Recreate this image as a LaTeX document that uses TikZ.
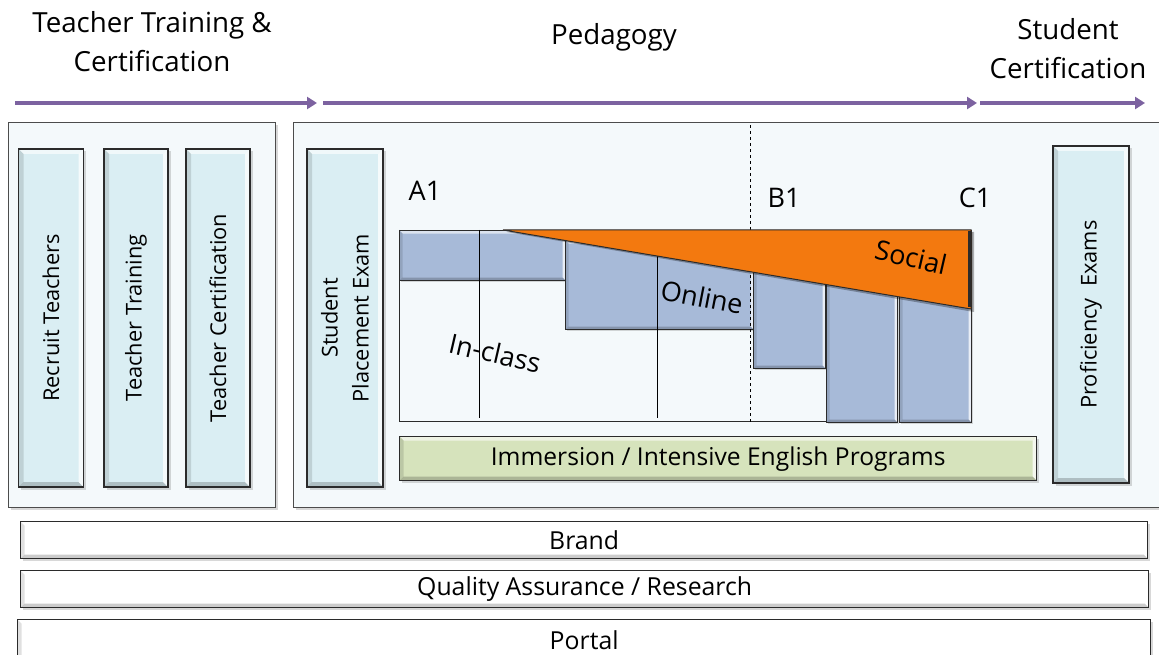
\documentclass[tikz,border=0pt]{standalone}
\usepackage{fontspec}
\setmainfont{Open Sans}
\usetikzlibrary{arrows.meta,shadows}
\definecolor{cyanC}{HTML}{DAEEF3}
\definecolor{contC}{HTML}{F4F9FB}
\definecolor{blueC}{HTML}{A7BAD8}
\definecolor{orangeC}{HTML}{F3790F}
\definecolor{greenC}{HTML}{D6E3BC}
\definecolor{purpleC}{HTML}{7C62A0}
\definecolor{edgeC}{HTML}{2B2B2B}
\tikzset{
  bevel/.style={path picture={
    \path (path picture bounding box.north west) coordinate (bNW)
          (path picture bounding box.north east) coordinate (bNE)
          (path picture bounding box.south west) coordinate (bSW)
          (path picture bounding box.south east) coordinate (bSE);
    \fill[white,opacity=.6] (bNW) -- (bNE) -- ([shift={(-#1,-#1)}]bNE) -- ([shift={(#1,-#1)}]bNW) -- cycle;
    \fill[white,opacity=.75] (bNE) -- (bSE) -- ([shift={(-#1,#1)}]bSE) -- ([shift={(-#1,-#1)}]bNE) -- cycle;
    \fill[black,opacity=.12] (bNW) -- (bSW) -- ([shift={(#1,#1)}]bSW) -- ([shift={(#1,-#1)}]bNW) -- cycle;
    \fill[black,opacity=.2] (bSW) -- (bSE) -- ([shift={(-#1,#1)}]bSE) -- ([shift={(#1,#1)}]bSW) -- cycle;
  }},
  bevel/.default=5pt,
  shad/.style={drop shadow={shadow xshift=2.5pt,shadow yshift=-2.5pt,opacity=.3}},
  cont/.style={draw=black!70, line width=1pt, fill=contC, shad, anchor=north west, inner sep=0pt},
  cbar/.style={draw=edgeC, line width=1.3pt, fill=cyanC, shad, bevel, inner sep=0pt},
  wbar/.style={draw=edgeC, line width=1.3pt, fill=white, shad, bevel=4pt, anchor=north west, inner sep=0pt, font=\fontsize{24.8}{28}\selectfont},
  gbar/.style={draw=edgeC, line width=1.3pt, fill=greenC, shad, bevel=4pt, anchor=north west, inner sep=0pt, font=\fontsize{24.6}{28}\selectfont},
  bbox/.style={draw=edgeC, line width=1pt, fill=blueC, bevel=3pt, anchor=north west, inner sep=0pt,
    drop shadow={shadow xshift=1.5pt,shadow yshift=-1.5pt,opacity=.3}},
  vlabel/.style={rotate=90, align=center, font=\fontsize{21.8}{31}\selectfont},
  head/.style={align=center, font=\fontsize{27.7}{39}\selectfont},
  lvl/.style={font=\fontsize{27}{30}\selectfont},
  mode/.style={font=\fontsize{27}{30}\selectfont},
  flow/.style={draw=purpleC, line width=4pt, -{Triangle[length=10pt,width=12pt]}},
}
\begin{document}
\begin{tikzpicture}[x=1pt,y=-1pt]
\useasboundingbox (0,0) rectangle (1159,655);
\clip (0,0) rectangle (1159,655);
\fill[white] (0,0) rectangle (1159,655);

% headings
\node[head] (h1) at (152,42) {Teacher Training \&\\Certification};
\node[head] (h2) at (614,37) {Pedagogy};
\node[head] (h3) at (1068,49) {Student\\Certification};

% arrows
\coordinate (a1s) at (15,103);  \coordinate (a1e) at (317,103);
\coordinate (a2s) at (323,103); \coordinate (a2e) at (977,103);
\coordinate (a3s) at (980,103); \coordinate (a3e) at (1145,103);
\draw[flow] (a1s) -- (a1e);
\draw[flow] (a2s) -- (a2e);
\draw[flow] (a3s) -- (a3e);

% containers
\node[cont, minimum width=267pt, minimum height=385pt] (left) at (8,122) {};
\node[cont, minimum width=880pt, minimum height=385pt] (right) at (293,122) {};

% teacher bars
\node[cbar, minimum width=65pt, minimum height=338pt] (rec) at (51,318) {};
\node[vlabel] (recT) at (rec) {Recruit Teachers};
\node[cbar, minimum width=64pt, minimum height=338pt] (tra) at (136,318) {};
\node[vlabel] (traT) at (tra) {Teacher Training};
\node[cbar, minimum width=64pt, minimum height=338pt] (cer) at (218,318) {};
\node[vlabel] (cerT) at (cer) {Teacher Certification};

% placement and proficiency
\node[cbar, minimum width=76pt, minimum height=338pt] (pla) at (345,318) {};
\node[vlabel] (plaT) at (pla) {Student\\Placement Exam};
\node[cbar, minimum width=76pt, minimum height=337pt] (pro) at (1091,314.5) {};
\node[vlabel] (proT) at (pro) {Proficiency\ \ Exams};

% chart axes
\draw[edgeC, line width=1pt] (399,230) -- (399,421) -- (826,421);

% blue boxes
\node[bbox, minimum width=166pt, minimum height=50pt] (b1) at (399,230) {};
\node[bbox, minimum width=188pt, minimum height=89pt] (b2) at (565,240) {};
\node[bbox, minimum width=72pt, minimum height=138pt] (b3) at (753,230) {};
\node[bbox, minimum width=71pt, minimum height=192pt] (b4) at (826,230) {};
\node[bbox, minimum width=72pt, minimum height=192pt] (b5) at (899,230) {};

% thin vertical lines
\draw[black, line width=.9pt] (479,230) -- (479,418);
\draw[black, line width=.9pt] (657,245) -- (657,418);
\draw[black, line width=.9pt, dashed] (750,125) -- (750,422);

% social wedge
\fill[black, opacity=.3] (507,232) -- (974,232) -- (974,312) -- cycle;
\filldraw[fill=orangeC, draw=edgeC, line width=1pt] (503,230) -- (971,230) -- (971,309) -- cycle;
\draw[edgeC, line width=2.5pt] (969.5,231) -- (969.5,307);

% level labels
\node[lvl] (A1) at (425,191) {A1};
\node[lvl] (B1) at (784,198) {B1};
\node[lvl] (C1) at (975,198) {C1};

% mode labels
\node[mode, rotate=-13] (soc) at (911,257) {Social};
\node[mode, rotate=-11] (onl) at (702,297) {Online};
\node[mode, rotate=-13] (inc) at (495,353) {In-class};

% immersion
\node[gbar, minimum width=637pt, minimum height=44pt] (imm) at (399,436) {Immersion / Intensive English Programs};

% bottom bars
\node[wbar, minimum width=1127pt, minimum height=37pt] (brand) at (20,521) {Brand};
\node[wbar, minimum width=1128pt, minimum height=37pt] (qa) at (20,570) {Quality Assurance / Research};
\node[wbar, minimum width=1133pt, minimum height=44pt, text depth=0pt] (portal) at (17,619) {\raisebox{4pt}{Portal}};
\end{tikzpicture}
\end{document}
